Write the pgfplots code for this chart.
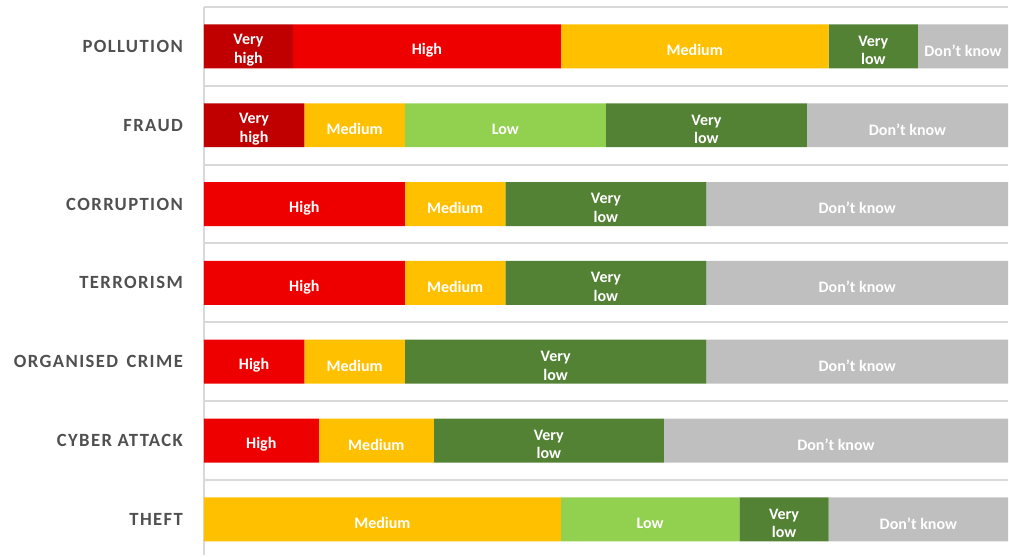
\documentclass[border=0pt]{standalone}
\usepackage{pgfplots}
\pgfplotsset{compat=1.18}
\usepackage{fontspec}
\setmainfont{Carlito}
\newfontfamily\catfont{Carlito}[LetterSpace=7.5]
\definecolor{vhigh}{HTML}{C00000}
\definecolor{high}{HTML}{EE0000}
\definecolor{medium}{HTML}{FFC000}
\definecolor{low}{HTML}{92D050}
\definecolor{vlow}{HTML}{548235}
\definecolor{dk}{HTML}{BFBFBF}
\definecolor{gridc}{HTML}{D9D9D9}
\definecolor{catc}{HTML}{505050}
\newcommand\lab[1]{\ifdim\rawx pt>0.01pt #1\fi}
\begin{document}
\begin{tikzpicture}
\begin{axis}[
  scale only axis, width=603.75pt, height=417pt,
  xbar stacked, bar width=33pt,
  xmin=0, xmax=100, ymin=-0.589, ymax=6.458, y dir=reverse,
  axis line style={draw=none},
  xtick=\empty,
  ytick={0,...,6},
  yticklabels={POLLUTION, FRAUD, CORRUPTION, TERRORISM, ORGANISED\hspace{0.45em}CRIME, CYBER ATTACK, THEFT},
  minor ytick={-0.5,0.5,...,6.5},
  yminorgrids, minor grid style={draw=gridc, line width=1.5pt},
  major tick length=0pt, minor tick length=0pt,
  yticklabel style={font=\catfont\bfseries\fontsize{14}{16}\selectfont, text=catc, inner sep=0pt, xshift=-15.5pt},
  visualization depends on={rawx \as \rawx},
  nodes near coords,
  every node near coord/.append style={font=\bfseries\fontsize{12}{14}\selectfont, text=white, align=center, anchor=center, yshift=-3pt},
  clip=false,
]
\addplot[fill=vhigh, draw=none, nodes near coords={\lab{Very\\high}}] coordinates {(11.1,0) (12.5,1) (0,2) (0,3) (0,4) (0,5) (0,6)};
\addplot[fill=high, draw=none, nodes near coords={\lab{High}}] coordinates {(33.3,0) (0,1) (25,2) (25,3) (12.5,4) (14.3,5) (0,6)};
\addplot[fill=medium, draw=none, nodes near coords={\lab{Medium}}] coordinates {(33.3,0) (12.5,1) (12.5,2) (12.5,3) (12.5,4) (14.3,5) (44.4,6)};
\addplot[fill=low, draw=none, nodes near coords={\lab{Low}}] coordinates {(0,0) (25,1) (0,2) (0,3) (0,4) (0,5) (22.2,6)};
\addplot[fill=vlow, draw=none, nodes near coords={\lab{Very\\low}}] coordinates {(11.1,0) (25,1) (25,2) (25,3) (37.5,4) (28.6,5) (11.1,6)};
\addplot[fill=dk, draw=none, nodes near coords={\lab{Don’t know}}] coordinates {(11.2,0) (25,1) (37.5,2) (37.5,3) (37.5,4) (42.8,5) (22.3,6)};
\draw[gridc, line width=1.5pt] (axis cs:0,-0.5) -- (axis cs:0,6.458);
\end{axis}
\path ([xshift=-153pt]current axis.south west) rectangle (current axis.north east);
\end{tikzpicture}
\end{document}
